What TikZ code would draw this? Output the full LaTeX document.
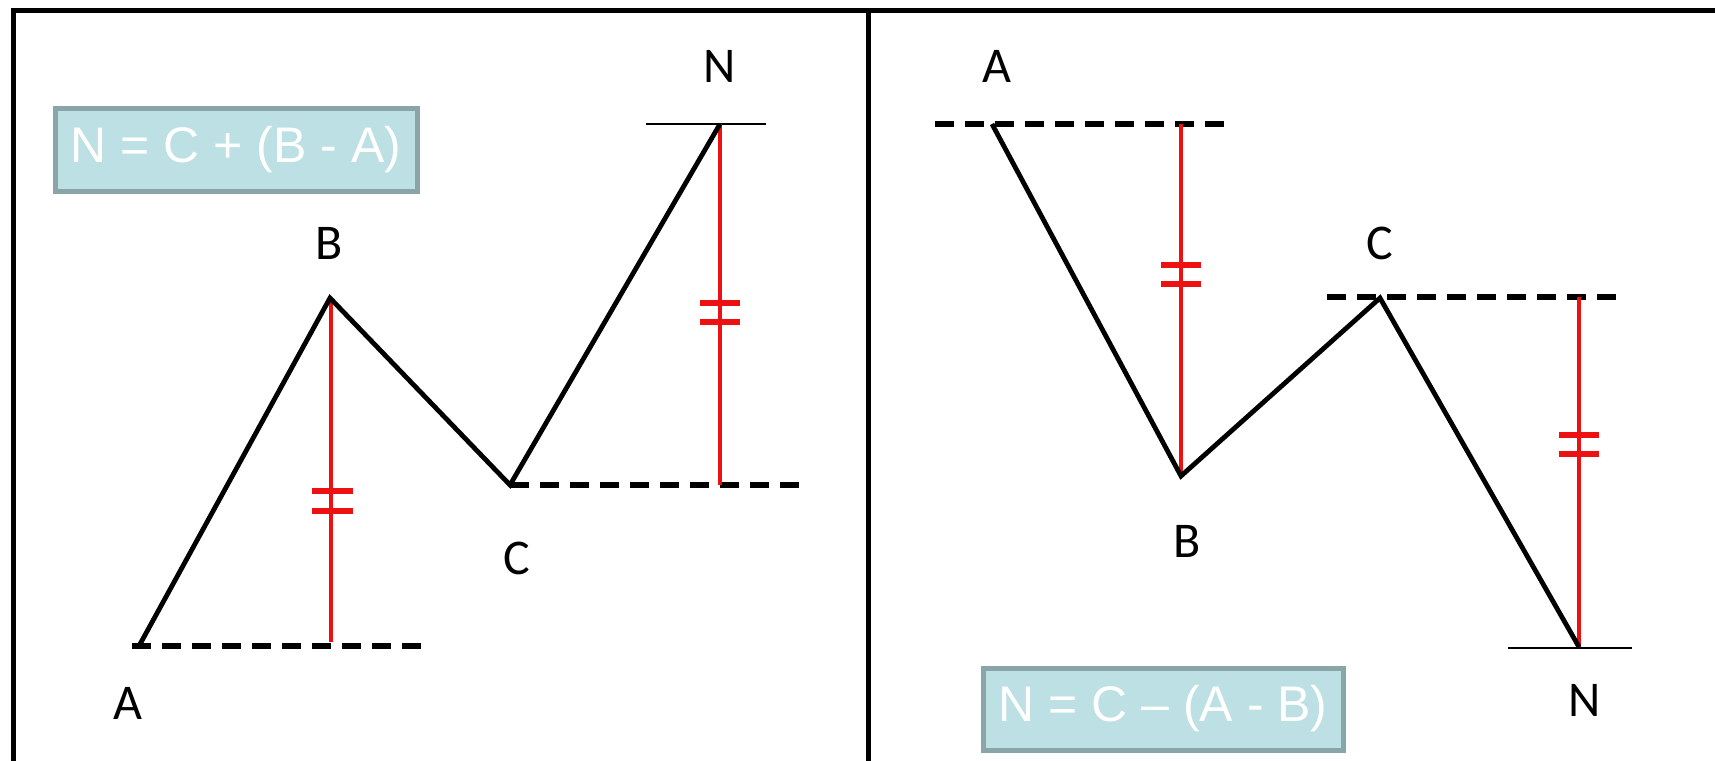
\documentclass[tikz,border=0pt]{standalone}
\usepackage{fontspec}
\setmainfont{Carlito}
\newfontfamily\boxfont{Liberation Sans}
\definecolor{boxfill}{HTML}{BCE0E3}
\definecolor{boxline}{HTML}{8AA5A8}
\definecolor{tickred}{HTML}{EE1111}
\begin{document}
\begin{tikzpicture}[x=0.5pt,y=-0.5pt,
  frame/.style={line width=2.5pt,black},
  zig/.style={line width=2.4pt,black,line join=miter},
  levdash/.style={line width=2.8pt,black,dash pattern=on 9.5pt off 5.5pt},
  levsolid/.style={line width=1.1pt,black},
  redline/.style={line width=1.7pt,tickred},
  tickmark/.style={line width=3pt,tickred},
  lbl/.style={font=\fontsize{25pt}{25pt}\selectfont,anchor=base,inner sep=0pt},
  formula/.style={draw=boxline,fill=boxfill,line width=2.5pt,text=white,
    font=\boxfont\fontsize{25pt}{25pt}\selectfont,inner sep=0pt}
]
\useasboundingbox (0,0) rectangle (1715,761);
% frame
\coordinate (TL) at (13,10);
\coordinate (TR) at (1715,10);
\coordinate (BL) at (13,761);
\coordinate (DT) at (868,10);
\coordinate (DB) at (868,761);
\draw[frame] (BL) -- (TL) -- (TR);
\draw[frame] (DT) -- (DB);

% ---------- left panel ----------
\coordinate (LA) at (139,646);
\coordinate (LB) at (330,298);
\coordinate (LC) at (510,485);
\coordinate (LN) at (720,124);
\coordinate (LAd1) at (132,646);
\coordinate (LAd2) at (421,646);
\coordinate (LCd2) at (809,485);
\coordinate (LNs1) at (646,124);
\coordinate (LNs2) at (766,124);
\coordinate (LBt) at (331,298);
\coordinate (LBr) at (331,642);
\coordinate (LNr) at (720,485);

\draw[levdash] (LAd1) -- (LAd2);
\draw[levdash] (LC) -- (LCd2);
\draw[levsolid] (LNs1) -- (LNs2);
\draw[redline] (LBt) -- (LBr);
\draw[redline] (LN) -- (LNr);
\draw[zig] (LA) -- (LB) -- (LC) -- (LN);
\draw[tickmark] (312,491) -- (353,491) (312,511) -- (353,511);
\draw[tickmark] (700,303) -- (740,303) (700,322) -- (740,322);

\node[lbl] (lA) at (128,719) {A};
\node[lbl] (lB) at (329,259) {B};
\node[lbl] (lC) at (517,574) {C};
\node[lbl] (lN) at (720,82) {N};

\node[formula,minimum width=181pt,minimum height=41.5pt] (f1) at (236,149.5) {N = C + (B - A)};

% ---------- right panel ----------
\coordinate (RA) at (992,124);
\coordinate (RB) at (1181,476);
\coordinate (RC) at (1380,298);
\coordinate (RN) at (1579,647);
\coordinate (RAd1) at (935,124);
\coordinate (RAd2) at (1227,124);
\coordinate (RCd1) at (1327,297);
\coordinate (RCd2) at (1617,297);
\coordinate (RNs1) at (1508,648);
\coordinate (RNs2) at (1632,648);
\coordinate (RBr) at (1181,124);
\coordinate (RNr) at (1579,297);

\draw[levdash] (RAd1) -- (RAd2);
\draw[levdash] (RCd1) -- (RCd2);
\draw[levsolid] (RNs1) -- (RNs2);
\draw[redline] (RBr) -- (RB);
\draw[redline] (RNr) -- (RN);
\draw[zig] (RA) -- (RB) -- (RC) -- (RN);
\draw[tickmark] (1161,265) -- (1201,265) (1161,284) -- (1201,284);
\draw[tickmark] (1559,435) -- (1599,435) (1559,454) -- (1599,454);

\node[lbl] (rA) at (997,82) {A};
\node[lbl] (rB) at (1187,557) {B};
\node[lbl] (rC) at (1380,259) {C};
\node[lbl] (rN) at (1585,716) {N};

\node[formula,minimum width=180pt,minimum height=41pt] (f2) at (1163,709) {N = C – (A - B)};
\end{tikzpicture}
\end{document}
